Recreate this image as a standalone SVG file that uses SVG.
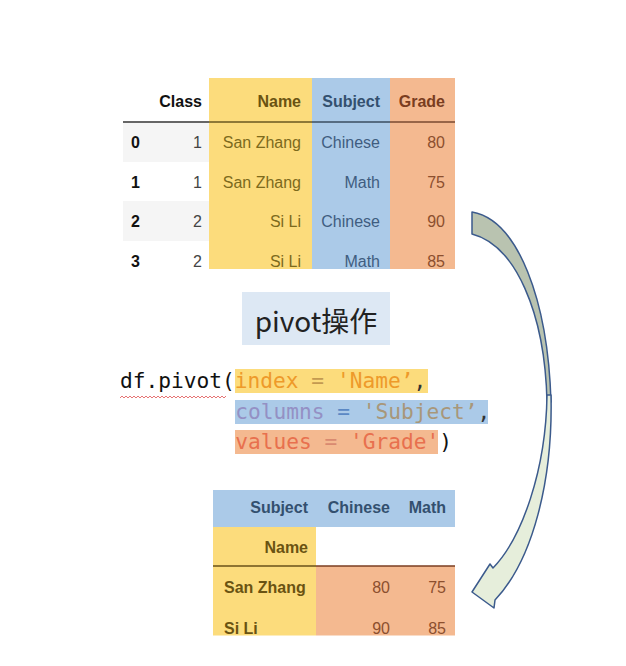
<svg xmlns="http://www.w3.org/2000/svg" width="626" height="666" viewBox="0 0 626 666">
<style>
.t{font-family:"Liberation Sans",Arial,sans-serif;font-size:16px}
.b{font-weight:bold}
.r{text-anchor:end}
.yl{fill:#7c6a1c}.ylh{fill:#6a5312}
.bl{fill:#3f5d80}.blh{fill:#33506f}
.or{fill:#8c4f2e}.orh{fill:#7a3d1f}
.dk{fill:#111}.gy{fill:#444}
.code{font-family:"DejaVu Sans Mono","Liberation Mono",monospace;font-size:21.2px}
.arrow{stroke:#3b5a8c;stroke-width:1.5;stroke-linejoin:round}
</style>
<defs>
<clipPath id="c1"><rect x="100" y="70" width="380" height="199"/></clipPath>
<clipPath id="c2"><rect x="200" y="480" width="270" height="155.5"/></clipPath>
</defs>
<rect width="626" height="666" fill="#fff"/>

<g id="table-original" clip-path="url(#c1)">
<rect x="123" y="123" width="86" height="39" fill="#f5f5f5"/>
<rect x="123" y="201" width="86" height="40" fill="#f5f5f5"/>
<rect x="209" y="78" width="103" height="191" fill="#fcdc7c"/>
<rect x="312" y="78" width="78" height="191" fill="#abcae8"/>
<rect x="390" y="78" width="65" height="191" fill="#f4b990"/>
<line x1="123" y1="122" x2="209" y2="122" stroke="#333" stroke-width="1.5"/>
<line x1="209" y1="122" x2="312" y2="122" stroke="#6a5820" stroke-width="1.5"/>
<line x1="312" y1="122" x2="390" y2="122" stroke="#3a4c60" stroke-width="1.5"/>
<line x1="390" y1="122" x2="455" y2="122" stroke="#7a4a30" stroke-width="1.5"/>
<text class="t b r dk" x="202" y="107">Class</text>
<text class="t b r ylh" x="301" y="107">Name</text>
<text class="t b r blh" x="380" y="107">Subject</text>
<text class="t b r orh" x="445" y="107">Grade</text>
<text class="t b dk" x="131" y="148">0</text>
<text class="t b dk" x="131" y="188">1</text>
<text class="t b dk" x="131" y="227">2</text>
<text class="t b dk" x="131" y="267">3</text>
<text class="t r gy" x="202" y="148">1</text>
<text class="t r gy" x="202" y="188">1</text>
<text class="t r gy" x="202" y="227">2</text>
<text class="t r gy" x="202" y="267">2</text>
<text class="t r yl" x="301" y="148">San Zhang</text>
<text class="t r yl" x="301" y="188">San Zhang</text>
<text class="t r yl" x="301" y="227">Si Li</text>
<text class="t r yl" x="301" y="267">Si Li</text>
<text class="t r bl" x="380" y="148">Chinese</text>
<text class="t r bl" x="380" y="188">Math</text>
<text class="t r bl" x="380" y="227">Chinese</text>
<text class="t r bl" x="380" y="267">Math</text>
<text class="t r or" x="445" y="148">80</text>
<text class="t r or" x="445" y="188">75</text>
<text class="t r or" x="445" y="227">90</text>
<text class="t r or" x="445" y="267">85</text>
</g>

<g id="pivot-label">
<rect x="242" y="292" width="148" height="53" fill="#dde8f4"/>
<text x="316" y="332" text-anchor="middle" font-family="'Noto Sans CJK SC','Noto Sans',sans-serif" font-size="28" fill="#222">pivot操作</text>
</g>

<g id="code">
<rect x="235" y="369" width="193" height="24" fill="#fcdc7c"/>
<rect x="235" y="400" width="253" height="24" fill="#abcae8"/>
<rect x="235" y="430" width="203" height="24" fill="#f4b990"/>
<path d="M120,398 l2,-2 l2,2 l2,-2 l2,2 l2,-2 l2,2 l2,-2 l2,2 l2,-2 l2,2 l2,-2 l2,2 l2,-2 l2,2 l2,-2 l2,2 l2,-2 l2,2 l2,-2 l2,2 l2,-2 l2,2 l2,-2 l2,2 l2,-2 l2,2 l2,-2 l2,2 l2,-2 l2,2 l2,-2 l2,2 l2,-2 l2,2 l2,-2 l2,2 l2,-2 l2,2 l2,-2 l2,2 l2,-2 l2,2 l2,-2 l2,2 l2,-2 l2,2 l2,-2 l2,2 l2,-2 l2,2 l2,-2 l2,2 l2,-2" fill="none" stroke="#e05050" stroke-width="0.8"/>
<text class="code" x="120" y="388" xml:space="preserve"><tspan fill="#111">df.pivot(</tspan><tspan fill="#ee9a2a">index</tspan><tspan fill="#c49a50"> = </tspan><tspan fill="#ee9a2a">'Name’</tspan><tspan fill="#333">,</tspan></text>
<text class="code" x="235.2" y="419" xml:space="preserve"><tspan fill="#9490c4">columns</tspan><tspan fill="#5a88c4"> = </tspan><tspan fill="#a8977a">'Subject’</tspan><tspan fill="#333">,</tspan></text>
<text class="code" x="235.2" y="449" xml:space="preserve"><tspan fill="#e8704e">values</tspan><tspan fill="#d98a70"> = </tspan><tspan fill="#e8704e">'Grade'</tspan><tspan fill="#111">)</tspan></text>
</g>

<g id="table-pivoted" clip-path="url(#c2)">
<rect x="213" y="490" width="242" height="37" fill="#abcae8"/>
<rect x="213" y="527" width="103" height="109" fill="#fcdc7c"/>
<rect x="316" y="566" width="139" height="70" fill="#f4b990"/>
<line x1="213" y1="566" x2="316" y2="566" stroke="#6a5218" stroke-width="1.5"/>
<line x1="316" y1="566" x2="455" y2="566" stroke="#7a3e22" stroke-width="1.5"/>
<text class="t b r blh" x="308" y="513">Subject</text>
<text class="t b r blh" x="390" y="513">Chinese</text>
<text class="t b r blh" x="446" y="513">Math</text>
<text class="t b r ylh" x="308" y="553">Name</text>
<text class="t b ylh" x="224" y="593">San Zhang</text>
<text class="t b ylh" x="224" y="634">Si Li</text>
<text class="t r or" x="390" y="593">80</text>
<text class="t r or" x="446" y="593">75</text>
<text class="t r or" x="390" y="634">90</text>
<text class="t r or" x="446" y="634">85</text>
</g>

<g id="connectors">
<path class="arrow" fill="#b9c3b0" d="M472,212 C518,220 548,300 551,402 L547,402 C545,312 515,245 472,234 Z"/>
<path class="arrow" fill="#e6eedb" d="M551,395 C553,480 533,560 495,600 L494,608 L472,592 L490,564 L493,568 C522,538 546,470 547,395 Z"/>
</g>
</svg>
